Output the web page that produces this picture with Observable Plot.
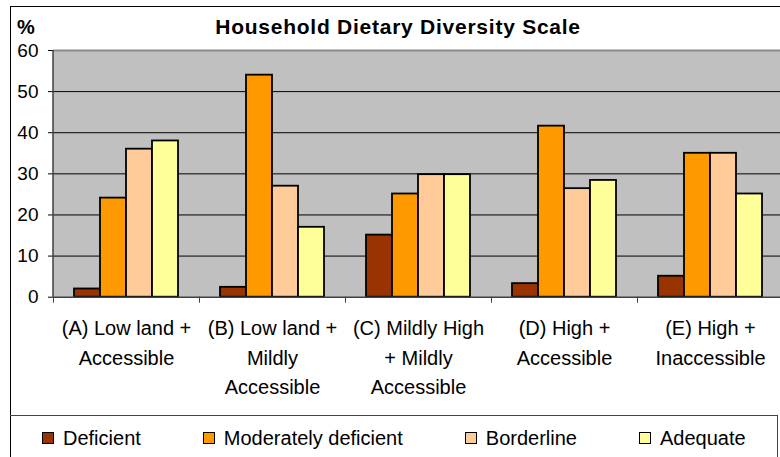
<!DOCTYPE html>
<html>
<head>
<meta charset="utf-8">
<script src="https://cdn.jsdelivr.net/npm/d3@7"></script>
<script src="https://cdn.jsdelivr.net/npm/@observablehq/plot@0.6"></script>
<style>
  html, body { margin:0; padding:0; background:#fff; width:780px; height:457px; overflow:hidden;
    font-family:"Liberation Sans", Arial, sans-serif; color:#000; }
  #outer { position:absolute; left:10px; top:6px; width:800px; height:500px;
    border-left:1.5px solid #000; border-top:1.5px solid #000; box-sizing:border-box; }
  #pct { position:absolute; left:17px; top:15px; font-weight:bold; font-size:20px; line-height:24px; }
  #title { position:absolute; left:10px; width:776px; top:15px; text-align:center; font-weight:bold;
    font-size:21px; line-height:24px; letter-spacing:0.75px; }
  #chart { position:absolute; left:0; top:40px; }
  #legend { position:absolute; left:10px; top:415px; width:768px; height:60px; box-sizing:border-box;
    border-top:1px solid #444; border-right:1px solid #444; }
  #legend .items { position:absolute; left:32px; top:10px; display:flex; align-items:center; white-space:nowrap; width:760px; }
  #legend .item { display:flex; align-items:center; margin-right:62px; font-size:20px; line-height:24px; white-space:nowrap; flex:none; }
  #legend .sw { width:10px; height:10px; border:1px solid #000; margin-right:9px; flex:none; }
</style>
</head>
<body>
<div id="outer"></div>
<div id="pct">%</div>
<div id="title">Household Dietary Diversity Scale</div>
<div id="chart"></div>
<div id="legend"><div class="items"></div></div>
<script>
// ---- data ----
const categories = [
  "(A) Low land +\nAccessible",
  "(B) Low land +\nMildly\nAccessible",
  "(C) Mildly High\n+ Mildly\nAccessible",
  "(D) High +\nAccessible",
  "(E) High +\nInaccessible"
];
const series = ["Deficient", "Moderately deficient", "Borderline", "Adequate"];
const deficient   = [2.0, 2.4, 15.1, 3.3, 5.1];
const moderately  = [24.1, 54.0, 25.1, 41.6, 35.0];
const borderline  = [36.0, 27.0, 29.8, 26.4, 35.0];
const adequate    = [38.0, 17.0, 29.8, 28.4, 25.1];
const colors = ["#993300", "#FF9900", "#FFCC99", "#FFFF99"];
const yTicks = [0, 10, 20, 30, 40, 50, 60];

const valuesBySeries = [deficient, moderately, borderline, adequate];
const rows = categories.flatMap((c, i) =>
  series.map((s, j) => ({category: c, series: s, value: valuesBySeries[j][i]})));

// ---- layout ----
const W = 783, H = 375, mL = 53, mR = 0, mT = 10, mB = H - 256.7;
const bw = (W - mL - mR) / categories.length;

const plot = Plot.plot({
  width: W, height: H,
  marginLeft: mL, marginRight: mR, marginTop: mT, marginBottom: mB,
  style: {background: "none", fontFamily: "'Liberation Sans', Arial, sans-serif", color: "#000", maxWidth: "none", overflow: "visible"},
  fx: {domain: categories, padding: 0, label: null},
  x: {domain: series, paddingInner: 0, paddingOuter: 0.73, axis: null},
  y: {domain: [0, 60], label: null},
  color: {domain: series, range: colors},
  marks: [
    Plot.gridY(yTicks.filter(t => t > 0 && t < 60), {stroke: "#000", strokeOpacity: 1, strokeWidth: 1}),
    Plot.ruleY([60], {stroke: "#8a8a8a", strokeWidth: 2}),
    Plot.barY(rows, {fx: "category", x: "series", y: "value", fill: "series", stroke: "#000", strokeWidth: 1.8}),
    Plot.ruleY([0], {stroke: "#404040", strokeWidth: 1.5}),
    Plot.axisY(yTicks, {tickSize: 5, tickPadding: 10, fontSize: 19, label: null}),
    Plot.axisFx({anchor: "bottom", tickSize: 0, tickPadding: 17, fontSize: 20, lineHeight: 1.48, label: null}),
    Plot.axisFx({anchor: "bottom", tickSize: 6, tickFormat: () => "", dx: -bw / 2, label: null, stroke: "#404040"})
  ]
});

// plot-area background, placed from the plot's own scales
const ys = plot.scale("y");
const bg = document.createElement("div");
Object.assign(bg.style, {
  position: "absolute", left: mL + "px", top: ys.range[1] + "px",
  width: (W - mL - mR) + "px", height: (ys.range[0] - ys.range[1]) + "px", background: "#C0C0C0"
});
const chart = document.getElementById("chart");
chart.appendChild(bg);
plot.style.position = "relative";
chart.appendChild(plot);

// left axis line
d3.select(plot).append("line")
  .attr("x1", mL).attr("x2", mL)
  .attr("y1", ys.range[0]).attr("y2", ys.range[1])
  .attr("stroke", "#404040").attr("stroke-width", 1.5);

// legend
const items = d3.select("#legend .items").selectAll(".item").data(series).join("div").attr("class", "item");
items.append("div").attr("class", "sw").style("background", (d, i) => colors[i]);
items.append("span").text(d => d);
</script>
</body>
</html>
